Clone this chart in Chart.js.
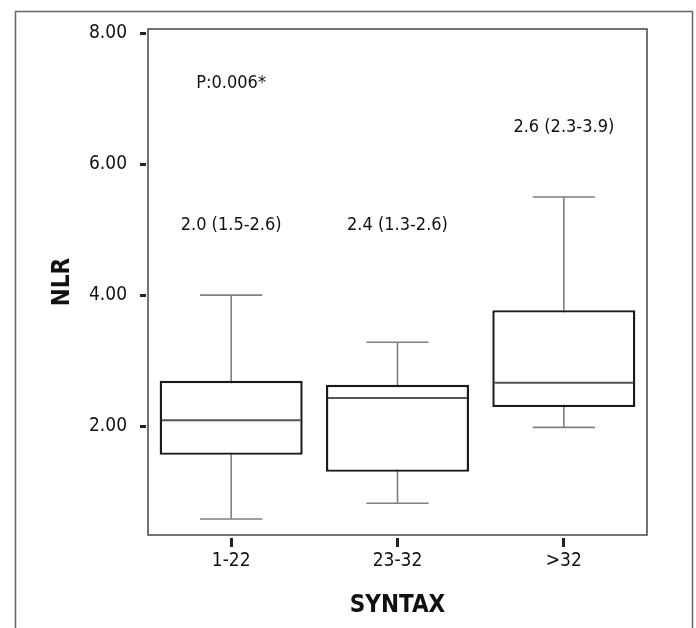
<!DOCTYPE html>
<html>
<head>
<meta charset="utf-8">
<script src="https://cdn.jsdelivr.net/npm/chart.js@4/dist/chart.umd.min.js"></script>
<style>
  html, body { margin: 0; padding: 0; background: #fff; }
  #wrap { width: 696px; height: 628px; position: relative; }
</style>
</head>
<body>
<div id="wrap"><canvas id="nlrChart" width="696" height="628"></canvas></div>
<script>
// NLR by SYNTAX group
const categories = ['1-22', '23-32', '>32'];
const whiskerLow = [0.58, 0.82, 1.98];
const q1 = [1.56, 1.30, 2.29];
const median = [2.09, 2.43, 2.66];
const q3 = [2.69, 2.63, 3.77];
const whiskerHigh = [4.00, 3.28, 5.50];
const yTicks = [2, 4, 6, 8];

// annotations inside the plot
const noteTexts = ['P:0.006*', '2.0 (1.5-2.6)', '2.4 (1.3-2.6)', '2.6 (2.3-3.9)'];
const noteCats = [0, 0, 1, 2];
const noteValues = [7.24, 5.07, 5.07, 6.56];

const fontFamily = "'Liberation Sans Narrow', 'Arial Narrow', 'DejaVu Sans Condensed', sans-serif";
Chart.defaults.font.family = fontFamily;
Chart.defaults.color = '#111';

const boxPlugin = {
    id: 'boxParts',
    beforeDraw(chart) {
        const ctx = chart.ctx;
        ctx.save();
        ctx.fillStyle = '#fff';
        ctx.fillRect(0, 0, chart.width, chart.height);
        // outer figure border
        ctx.strokeStyle = '#666';
        ctx.lineWidth = 1.5;
        ctx.strokeRect(15.5, 11.5, chart.width - 19, chart.height + 20);
        ctx.restore();
    },
    beforeDatasetsDraw(chart) {
        const ctx = chart.ctx;
        const y = chart.scales.y;
        const meta = chart.getDatasetMeta(0);
        ctx.save();
        ctx.strokeStyle = '#808080';
        ctx.lineWidth = 1.6;
        meta.data.forEach((bar, i) => {
            const cap = bar.width * 0.435 / 2;
            const yLo = y.getPixelForValue(whiskerLow[i]);
            const yHi = y.getPixelForValue(whiskerHigh[i]);
            ctx.beginPath();
            ctx.moveTo(bar.x, yLo);
            ctx.lineTo(bar.x, yHi);
            ctx.moveTo(bar.x - cap, yLo);
            ctx.lineTo(bar.x + cap, yLo);
            ctx.moveTo(bar.x - cap, yHi);
            ctx.lineTo(bar.x + cap, yHi);
            ctx.stroke();
        });
        ctx.restore();
    },
    afterDatasetsDraw(chart) {
        const ctx = chart.ctx;
        const x = chart.scales.x;
        const y = chart.scales.y;
        const meta = chart.getDatasetMeta(0);
        const area = chart.chartArea;
        ctx.save();
        // medians
        ctx.strokeStyle = '#555';
        ctx.lineWidth = 2;
        meta.data.forEach((bar, i) => {
            const ym = y.getPixelForValue(median[i]);
            ctx.beginPath();
            ctx.moveTo(bar.x - bar.width / 2 + 2, ym);
            ctx.lineTo(bar.x + bar.width / 2 - 2, ym);
            ctx.stroke();
        });
        // plot frame
        ctx.strokeStyle = '#444';
        ctx.lineWidth = 1.5;
        ctx.strokeRect(area.left, area.top, area.right - area.left, area.bottom - area.top);
        // notes
        ctx.fillStyle = '#111';
        ctx.font = '18px ' + fontFamily;
        ctx.textAlign = 'center';
        ctx.textBaseline = 'middle';
        noteTexts.forEach((t, i) => {
            ctx.fillText(t, x.getPixelForValue(noteCats[i]), y.getPixelForValue(noteValues[i]));
        });
        ctx.restore();
    }
};

new Chart(document.getElementById('nlrChart'), {
    type: 'bar',
    data: {
        labels: categories,
        datasets: [{
            data: categories.map((c, i) => [q1[i], q3[i]]),
            backgroundColor: '#fff',
            borderColor: '#1a1a1a',
            borderWidth: 2.4,
            borderSkipped: false,
            barPercentage: 0.86,
            categoryPercentage: 1
        }]
    },
    options: {
        responsive: false,
        animation: false,
        layout: { padding: { left: 0, top: 29, right: 49, bottom: 0 } },
        plugins: {
            legend: { display: false },
            tooltip: { enabled: false }
        },
        scales: {
            x: {
                afterFit: (s) => { s.height = 93; },
                border: { display: false },
                grid: {
                    offset: false,
                    drawOnChartArea: false,
                    drawTicks: true,
                    tickLength: 12,
                    tickWidth: 3,
                    tickColor: '#222',
                    tickBorderDash: [0, 3, 9, 60]
                },
                ticks: { font: { size: 19 }, padding: 3, color: '#111' },
                title: {
                    display: true,
                    text: 'SYNTAX',
                    font: { size: 24, weight: 'bold' },
                    color: '#111',
                    padding: { top: 0, bottom: 8 }
                }
            },
            y: {
                min: 0.335,
                max: 8.066,
                afterFit: (s) => { s.width = 148; },
                afterBuildTicks: (s) => { s.ticks = yTicks.map(v => ({ value: v })); },
                border: { display: false },
                grid: {
                    drawOnChartArea: false,
                    drawTicks: true,
                    tickLength: 8,
                    tickWidth: 3,
                    tickColor: '#222',
                    tickBorderDash: [6, 60]
                },
                ticks: {
                    font: { size: 19 },
                    padding: 13,
                    color: '#111',
                    callback: (v) => Number(v).toFixed(2)
                },
                title: {
                    display: true,
                    text: 'NLR',
                    font: { size: 24, weight: 'bold' },
                    color: '#111',
                    padding: { top: 48, bottom: 0 }
                }
            }
        }
    },
    plugins: [boxPlugin]
});
</script>
</body>
</html>
